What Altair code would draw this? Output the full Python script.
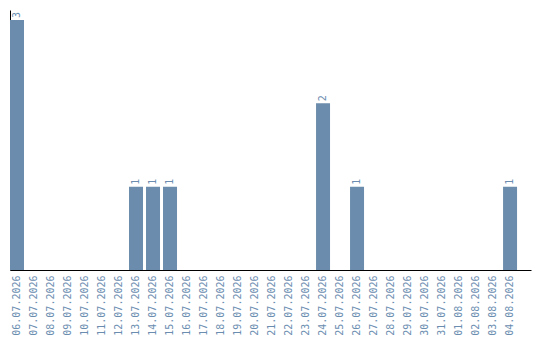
import altair as alt
import pandas as pd

# Daily counts from 06.07.2026 to 04.08.2026
dates = [
    "06.07.2026", "07.07.2026", "08.07.2026", "09.07.2026", "10.07.2026",
    "11.07.2026", "12.07.2026", "13.07.2026", "14.07.2026", "15.07.2026",
    "16.07.2026", "17.07.2026", "18.07.2026", "19.07.2026", "20.07.2026",
    "21.07.2026", "22.07.2026", "23.07.2026", "24.07.2026", "25.07.2026",
    "26.07.2026", "27.07.2026", "28.07.2026", "29.07.2026", "30.07.2026",
    "31.07.2026", "01.08.2026", "02.08.2026", "03.08.2026", "04.08.2026",
]
counts = [
    3, 0, 0, 0, 0,
    0, 0, 1, 1, 1,
    0, 0, 0, 0, 0,
    0, 0, 0, 2, 0,
    1, 0, 0, 0, 0,
    0, 0, 0, 0, 1,
]

df = pd.DataFrame({"date": dates, "count": counts})
df["label"] = df["count"].apply(lambda v: str(v) if v > 0 else "")

BAR = "#6b8cac"
TXT = "#6a8db0"
FONT = "DejaVu Sans Mono"

x = alt.X(
    "date:N",
    sort=dates,
    scale=alt.Scale(paddingInner=3 / 17, paddingOuter=0.41, align=0),
    axis=alt.Axis(
        title=None,
        labelAngle=-90,
        labelFont=FONT,
        labelFontSize=10,
        labelColor=TXT,
        labelPadding=5,
        ticks=False,
        domainColor="#000000",
        domainWidth=1,
    ),
)
y = alt.Y(
    "count:Q",
    scale=alt.Scale(domain=[0, 3.12], nice=False),
    axis=alt.Axis(
        title=None,
        labels=False,
        ticks=False,
        grid=False,
        domainColor="#000000",
        domainWidth=1,
    ),
)

bars = alt.Chart(df).mark_bar(color=BAR).encode(x=x, y=y)

labels = alt.Chart(df).mark_text(
    angle=270,
    align="left",
    baseline="middle",
    dx=2,
    font=FONT,
    fontSize=10,
    color=TXT,
).encode(x=x, y=y, text="label:N")

chart = (
    (bars + labels)
    .properties(
        width=521,
        height=260,
        padding={"left": 10, "top": 10, "right": 5, "bottom": 0},
        background="#ffffff",
    )
    .configure_view(stroke=None)
)

chart.save("out.html", embed_options={"renderer": "svg", "actions": False})
